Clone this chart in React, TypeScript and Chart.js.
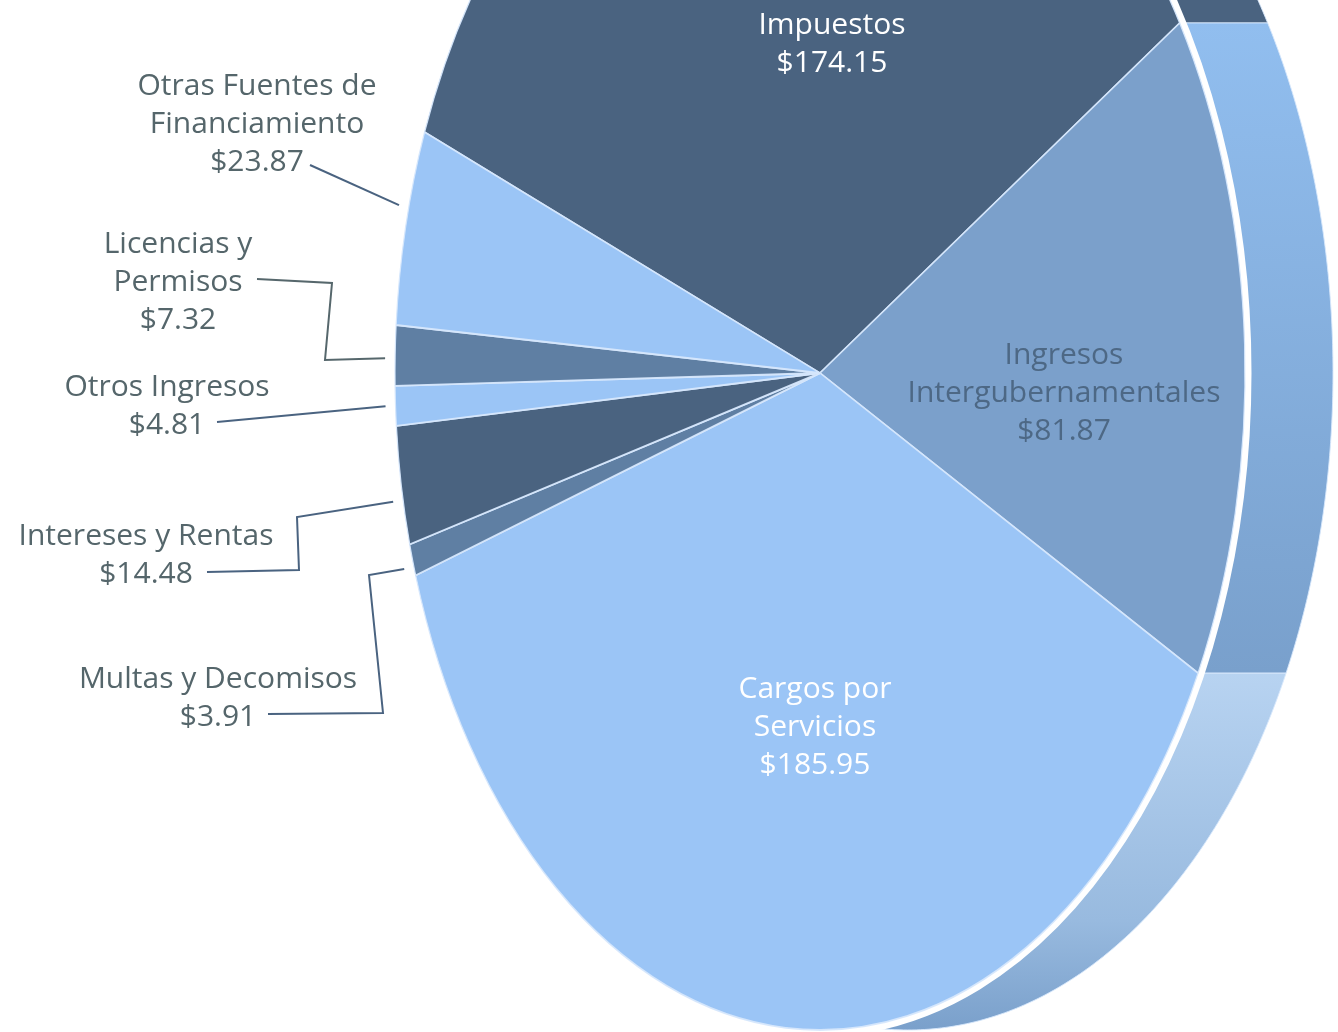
import { useEffect, useRef } from 'react';
import { Chart, registerables } from 'chart.js';

Chart.register(...registerables);

// ---------------- data ----------------
const categories = [
  'Impuestos',
  'Ingresos Intergubernamentales',
  'Cargos por Servicios',
  'Multas y Decomisos',
  'Intereses y Rentas',
  'Otros Ingresos',
  'Licencias y Permisos',
  'Otras Fuentes de Financiamiento',
];
const values = [174.15, 81.87, 185.95, 3.91, 14.48, 4.81, 7.32, 23.87];
const labelLines = [
  ['Impuestos'],
  ['Ingresos', 'Intergubernamentales'],
  ['Cargos por', 'Servicios'],
  ['Multas y Decomisos'],
  ['Intereses y Rentas'],
  ['Otros Ingresos'],
  ['Licencias y', 'Permisos'],
  ['Otras Fuentes de', 'Financiamiento'],
];

// ---------------- styles / layout ----------------
const W = 1338;
const H = 1032;
const CX = 820;
const CY = 373;
const RX = 425;
const RY = 657;
const DEPTH = 88;
const FONT = '30px "Open Sans"';
const LINE_H = 38;

const sliceColors = ['#4a6380', '#7ba0cb', '#9bc5f6', '#5f7fa3', '#4a6380', '#9bc5f6', '#5f7fa3', '#9bc5f6'];
const sideStops: [number, string][][] = [
  [[0, '#4a6380'], [1, '#4a6380']],
  [[0, '#91beef'], [1, '#79a0cc']],
  [[0, '#c4ddf8'], [0.76, '#98badf'], [1, '#7aa0cb']],
  [[0, '#5f7fa3'], [1, '#5f7fa3']],
  [[0, '#4a6380'], [1, '#4a6380']],
  [[0, '#9bc5f6'], [1, '#9bc5f6']],
  [[0, '#5f7fa3'], [1, '#5f7fa3']],
  [[0, '#9bc5f6'], [1, '#9bc5f6']],
];

type LabelLayout = {
  x: number;
  y: number;
  color: string;
  at?: number;
  bends?: [number, number][];
  lineColor?: string;
};
const labelLayout: LabelLayout[] = [
  { x: 832, y: 25, color: '#ffffff' },
  { x: 1064, y: 355, color: '#4d6885' },
  { x: 815, y: 689, color: '#ffffff' },
  { x: 218, y: 679, color: '#55666b', at: 0.3, bends: [[369, 575], [383, 713], [268, 714]], lineColor: '#4a6380' },
  { x: 146, y: 536, color: '#55666b', at: 0.38, bends: [[297, 517], [299, 570], [207, 572]], lineColor: '#4a6380' },
  { x: 167, y: 387, color: '#55666b', at: 0.5, bends: [[217, 422]], lineColor: '#4a6380' },
  { x: 178, y: 244, color: '#55666b', at: 0.45, bends: [[325, 360], [332, 283], [257, 279]], lineColor: '#56676c' },
  { x: 257, y: 86, color: '#55666b', at: 0.6, bends: [[310, 165]], lineColor: '#4a6380' },
];

const pt = (a: number, dx = 0, k = 1): [number, number] => [
  CX + RX * k * Math.cos(a) + dx,
  CY + RY * k * Math.sin(a),
];

const pie3d = {
  id: 'pie3d',
  beforeDatasetsDraw(chart: any) {
    const ctx = chart.ctx as CanvasRenderingContext2D;
    const meta = chart.getDatasetMeta(0);
    // side walls
    meta.data.forEach((arc: any, i: number) => {
      const { startAngle, endAngle } = arc.getProps(['startAngle', 'endAngle'], true);
      const steps = Math.max(4, Math.ceil((endAngle - startAngle) / 0.01));
      const pts: [number, number][] = [];
      for (let s = 0; s <= steps; s++) pts.push(pt(startAngle + ((endAngle - startAngle) * s) / steps));
      let minY = Infinity;
      let maxY = -Infinity;
      pts.forEach((p) => {
        minY = Math.min(minY, p[1]);
        maxY = Math.max(maxY, p[1]);
      });
      ctx.save();
      ctx.beginPath();
      pts.forEach((p, j) => (j === 0 ? ctx.moveTo(p[0], p[1]) : ctx.lineTo(p[0], p[1])));
      for (let j = pts.length - 1; j >= 0; j--) ctx.lineTo(pts[j][0] + DEPTH, pts[j][1]);
      ctx.closePath();
      const g = ctx.createLinearGradient(0, minY, 0, maxY);
      sideStops[i].forEach(([o, c]) => g.addColorStop(o, c));
      ctx.fillStyle = g;
      ctx.fill();
      ctx.strokeStyle = 'rgba(215,232,252,0.9)';
      ctx.lineWidth = 1;
      ctx.stroke();
      ctx.restore();
    });
    // white gap around the top face
    ctx.save();
    ctx.beginPath();
    ctx.ellipse(CX, CY, RX, RY, 0, 0, Math.PI * 2);
    ctx.strokeStyle = '#ffffff';
    ctx.lineWidth = 13;
    ctx.stroke();
    ctx.restore();
    // stretch the circular pie into the ellipse
    const a0 = meta.data[0].getProps(['x', 'y', 'outerRadius'], true);
    ctx.save();
    ctx.translate(CX, CY);
    ctx.scale(RX / a0.outerRadius, RY / a0.outerRadius);
    ctx.translate(-a0.x, -a0.y);
  },
  afterDatasetsDraw(chart: any) {
    const ctx = chart.ctx as CanvasRenderingContext2D;
    ctx.restore();
    const meta = chart.getDatasetMeta(0);
    ctx.save();
    ctx.font = FONT;
    ctx.textAlign = 'center';
    ctx.textBaseline = 'middle';
    meta.data.forEach((arc: any, i: number) => {
      const L = labelLayout[i];
      const lines = [...labelLines[i], '$' + values[i].toFixed(2)];
      if (L.bends) {
        const { startAngle, endAngle } = arc.getProps(['startAngle', 'endAngle'], true);
        const a = startAngle + (endAngle - startAngle) * (L.at ?? 0.5);
        const s = pt(a, 0, 1);
        const start: [number, number] = [s[0] + 10 * Math.cos(a), s[1] + 10 * Math.sin(a)];
        ctx.beginPath();
        ctx.moveTo(start[0], start[1]);
        L.bends.forEach((b) => ctx.lineTo(b[0], b[1]));
        ctx.strokeStyle = L.lineColor || '#4a6380';
        ctx.lineWidth = 2;
        ctx.lineJoin = 'miter';
        ctx.stroke();
      }
      ctx.fillStyle = L.color;
      lines.forEach((t, j) => ctx.fillText(t, L.x, L.y + j * LINE_H));
    });
    ctx.restore();
  },
};

export default function App() {
  const ref = useRef<HTMLCanvasElement>(null);
  useEffect(() => {
    if (!ref.current) return;
    const chart = new Chart(ref.current, {
      type: 'pie',
      data: {
        labels: categories,
        datasets: [
          {
            data: values,
            backgroundColor: sliceColors,
            borderColor: 'rgba(214,231,252,0.95)',
            borderWidth: 1.2,
          },
        ],
      },
      options: {
        animation: false,
        responsive: false,
        rotation: -68.5,
        events: [],
        layout: { padding: { top: 91, bottom: 91 } },
        plugins: { legend: { display: false }, tooltip: { enabled: false } },
      },
      plugins: [pie3d as any],
    });
    return () => chart.destroy();
  }, []);
  return (
    <div style={{ position: 'absolute', left: 0, top: 0, width: W, height: H, overflow: 'hidden', background: '#fff' }}>
      <canvas ref={ref} width={W} height={H} style={{ width: W, height: H, display: 'block' }} />
    </div>
  );
}
